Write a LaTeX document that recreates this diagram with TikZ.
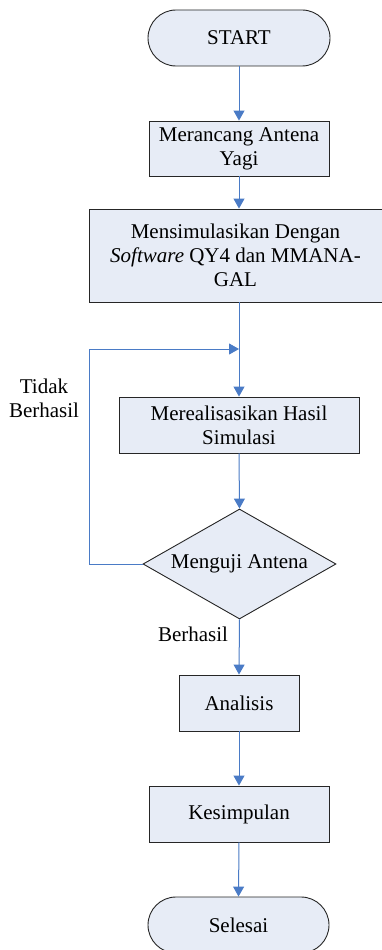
\documentclass[tikz,border=0pt]{standalone}
\usepackage{fontspec}
\setmainfont{Liberation Serif}
\usetikzlibrary{arrows.meta,shapes.geometric}
\definecolor{boxfill}{HTML}{E7ECF6}
\definecolor{flowblue}{HTML}{4A7BC6}
\begin{document}
\begin{tikzpicture}[x=1pt,y=-1pt,
  every node/.style={font=\fontsize{21}{24}\selectfont, align=center, inner sep=0pt},
  procbox/.style={draw=black!85, line width=0.9pt, fill=boxfill, rectangle},
  termbox/.style={draw=black!85, line width=0.9pt, fill=boxfill, rectangle, rounded corners=28pt},
  decbox/.style={draw=black!85, line width=0.9pt, fill=boxfill, diamond, aspect=1.75},
  flow/.style={draw=flowblue, line width=1pt, -{Triangle[length=10pt,width=11pt]}},
  lbl/.style={font=\fontsize{21}{24}\selectfont}
]
\useasboundingbox (0,0) rectangle (382,950);
\fill[white] (0,0) rectangle (382,950);

\node[termbox, minimum width=182pt, minimum height=56pt] (start) at (239,38) {START};
\node[procbox, minimum width=180pt, minimum height=55pt] (b1) at (239,148.5) {Merancang Antena\\Yagi};
\node[procbox, minimum width=293pt, minimum height=93pt] (b2) at (235.5,255.5) {Mensimulasikan Dengan\\\textit{Software} QY4 dan MMANA-\\GAL};
\node[procbox, minimum width=240pt, minimum height=56pt] (b3) at (239,425) {Merealisasikan Hasil\\Simulasi};
\node[decbox, minimum width=193pt, minimum height=110pt] (dec) at (239.5,564) {Menguji Antena};
\node[procbox, minimum width=120pt, minimum height=56pt] (an) at (239,703) {Analisis};
\node[procbox, minimum width=180pt, minimum height=56pt] (kes) at (239,814) {Kesimpulan};
\node[termbox, minimum width=181pt, minimum height=56pt] (end) at (238.5,925) {Selesai};

\coordinate (join) at (239,349);
\coordinate (lc1) at (89,564);
\coordinate (lc2) at (89,349);

\node[lbl] (tb) at (44,398) {Tidak\\Berhasil};
\node[lbl] (bh) at (193,634) {Berhasil};

\draw[flow] (start.south) -- (b1.north);
\draw[flow] (b1.south) -- (b1.south |- b2.north);
\draw[flow] (join |- b2.south) -- (join |- b3.north);
\draw[flow] (b3.south) -- (dec.north);
\draw[flow] (dec.west) -- (lc1) -- (lc2) -- (join);
\draw[flow] (dec.south) -- (an.north);
\draw[flow] (an.south) -- (kes.north);
\draw[flow] (kes.south) -- (end.north);
\end{tikzpicture}
\end{document}
